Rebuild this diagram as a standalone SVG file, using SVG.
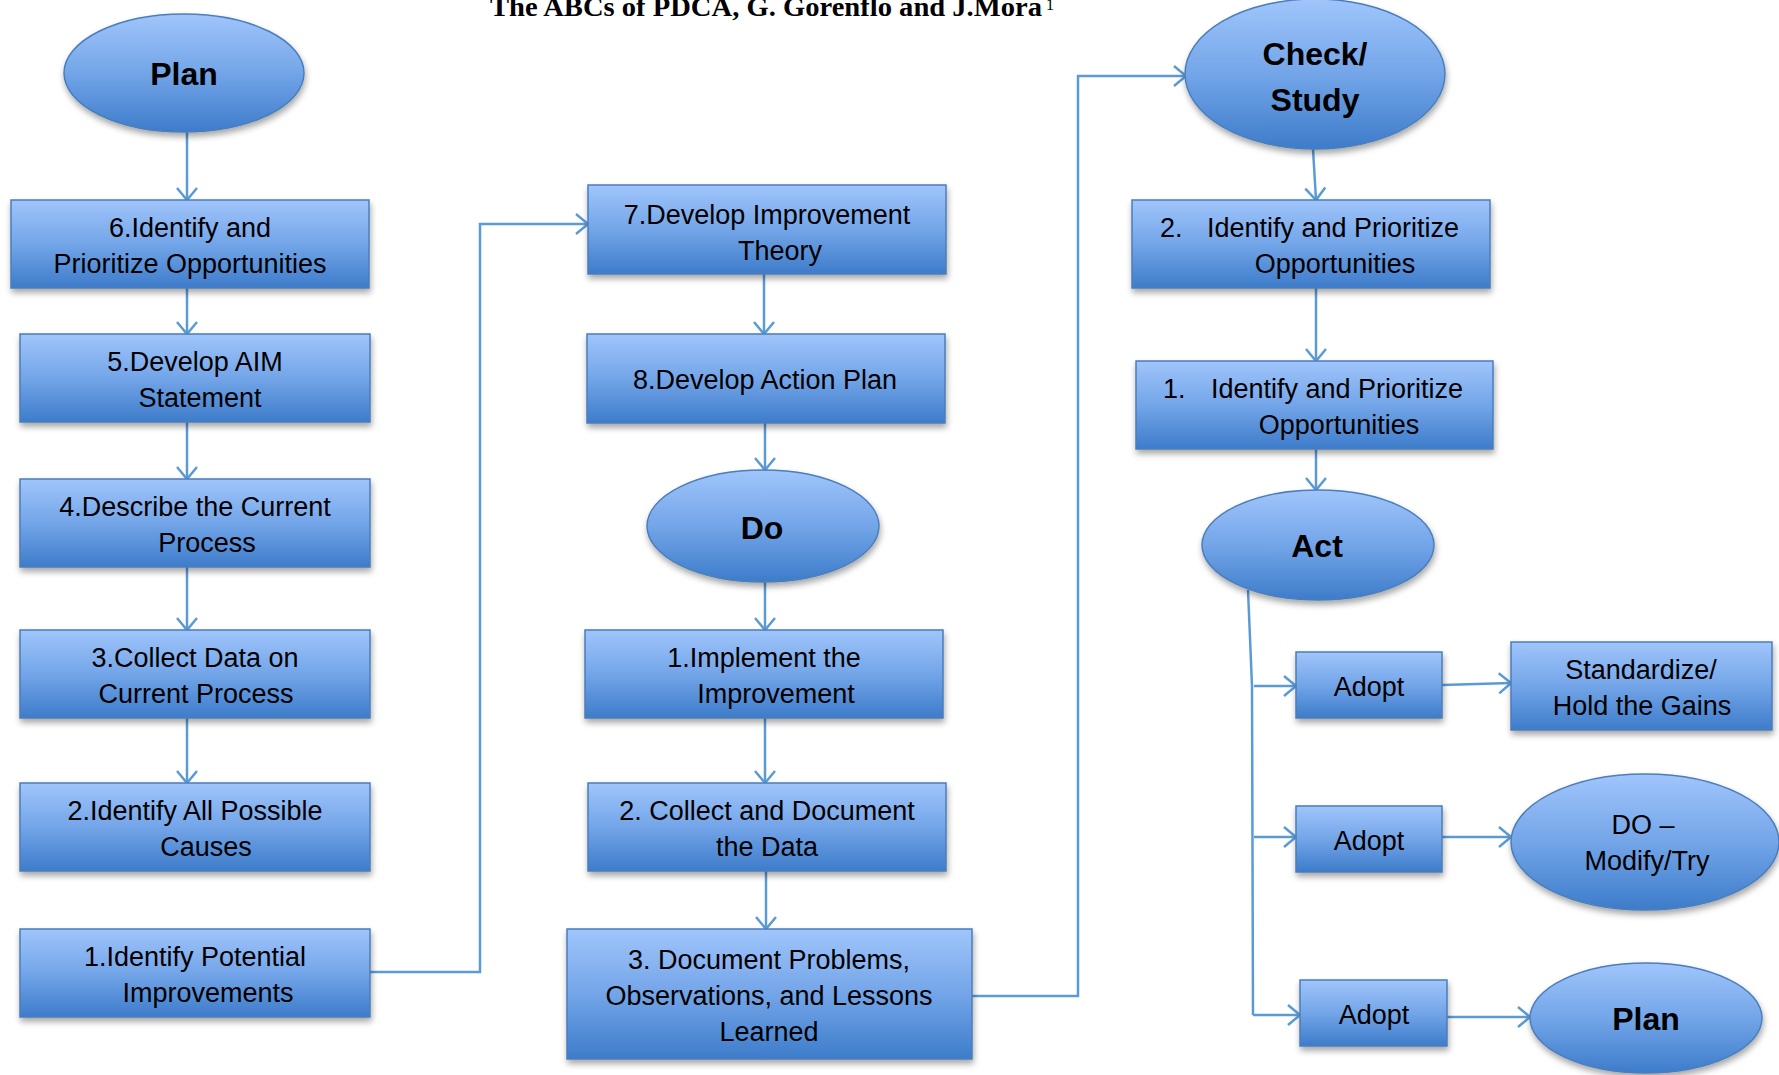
<svg xmlns="http://www.w3.org/2000/svg" width="1779" height="1075" viewBox="0 0 1779 1075">
<defs>
<linearGradient id="g" x1="0" y1="0" x2="0" y2="1">
<stop offset="0" stop-color="#a0c5fb"/>
<stop offset="0.5" stop-color="#73a5e8"/>
<stop offset="1" stop-color="#3d7cca"/>
</linearGradient>
<filter id="sh" x="-10%" y="-10%" width="125%" height="135%">
<feDropShadow dx="1" dy="4" stdDeviation="3" flood-color="#000" flood-opacity="0.35"/>
</filter>
<marker id="ar" viewBox="0 0 16 24" markerUnits="userSpaceOnUse" markerWidth="16" markerHeight="24" refX="14" refY="12" orient="auto">
<path d="M2,2 L14,12 L2,22" fill="none" stroke="#5b9bd5" stroke-width="2.5"/>
</marker>
</defs>
<style>
.n{fill:url(#g);stroke:#4a7ebb;stroke-width:1.5;filter:url(#sh)}
.t{font-family:"Liberation Sans",Arial,sans-serif;font-size:27px;fill:#000;text-anchor:middle}
.t.l{text-anchor:start}
.b{font-family:"Liberation Sans",Arial,sans-serif;font-size:32px;font-weight:bold;fill:#000;text-anchor:middle}
.c{fill:none;stroke:#5b9bd5;stroke-width:2.5;marker-end:url(#ar)}
.c0{fill:none;stroke:#5b9bd5;stroke-width:2.5}
</style>
<rect width="1779" height="1075" fill="#fff"/>
<text x="490" y="16" font-family="'Liberation Serif',serif" font-weight="bold" font-size="27" textLength="552" lengthAdjust="spacingAndGlyphs">The ABCs of PDCA, G. Gorenflo and J.Mora</text>
<text x="1046" y="10" font-family="'Liberation Serif',serif" font-size="16">1</text>

<g id="connectors">
<path class="c" d="M187,132 V200"/>
<path class="c" d="M187,288 V334"/>
<path class="c" d="M187,422 V479"/>
<path class="c" d="M187,567 V630"/>
<path class="c" d="M187,718 V783"/>
<path class="c" d="M370,972 H480 V224 H588"/>
<path class="c" d="M764,274 V334"/>
<path class="c" d="M765,423 V470"/>
<path class="c" d="M765,582 V630"/>
<path class="c" d="M765,718 V783"/>
<path class="c" d="M766,871 V929"/>
<path class="c" d="M972,996 H1078 V76 H1186"/>
<path class="c" d="M1313,149 L1316,200"/>
<path class="c" d="M1316,288 V361"/>
<path class="c" d="M1316,449 V490"/>
<path class="c0" d="M1248,590 L1252,686 L1253,1015"/>
<path class="c" d="M1253,1015 H1300"/>
<path class="c" d="M1254,686 H1296"/>
<path class="c" d="M1254,837 H1296"/>
<path class="c" d="M1442,685 L1511,683"/>
<path class="c" d="M1442,837 H1511"/>
<path class="c" d="M1447,1017 H1530"/>
</g>

<g id="plan"><ellipse class="n" cx="184" cy="73" rx="120" ry="59"/><text class="b" x="184" y="85">Plan</text></g>
<g id="s6"><rect class="n" x="11" y="200" width="358" height="88"/><text class="t" x="190" y="237">6.Identify and</text><text class="t" x="190" y="273">Prioritize Opportunities</text></g>
<g id="s5"><rect class="n" x="20" y="334" width="350" height="88"/><text class="t" x="195" y="371">5.Develop AIM</text><text class="t" x="200" y="407">Statement</text></g>
<g id="s4"><rect class="n" x="20" y="479" width="350" height="88"/><text class="t" x="195" y="516">4.Describe the Current</text><text class="t" x="207" y="552">Process</text></g>
<g id="s3"><rect class="n" x="20" y="630" width="350" height="88"/><text class="t" x="195" y="667">3.Collect Data on</text><text class="t" x="196" y="703">Current Process</text></g>
<g id="s2"><rect class="n" x="20" y="783" width="350" height="88"/><text class="t" x="195" y="820">2.Identify All Possible</text><text class="t" x="206" y="856">Causes</text></g>
<g id="s1"><rect class="n" x="20" y="929" width="350" height="88"/><text class="t" x="195" y="966">1.Identify Potential</text><text class="t" x="208" y="1002">Improvements</text></g>

<g id="s7"><rect class="n" x="588" y="185" width="358" height="89"/><text class="t" x="767" y="224">7.Develop Improvement</text><text class="t" x="780" y="260">Theory</text></g>
<g id="s8"><rect class="n" x="587" y="334" width="358" height="89"/><text class="t" x="765" y="389">8.Develop Action Plan</text></g>
<g id="do"><ellipse class="n" cx="763" cy="526" rx="116" ry="56"/><text class="b" x="762" y="539">Do</text></g>
<g id="d1"><rect class="n" x="585" y="630" width="358" height="88"/><text class="t" x="764" y="667">1.Implement the</text><text class="t" x="776" y="703">Improvement</text></g>
<g id="d2"><rect class="n" x="588" y="783" width="358" height="88"/><text class="t" x="767" y="820">2. Collect and Document</text><text class="t" x="767" y="856">the Data</text></g>
<g id="d3"><rect class="n" x="567" y="929" width="405" height="130"/><text class="t" x="769" y="969">3. Document Problems,</text><text class="t" x="769" y="1005">Observations, and Lessons</text><text class="t" x="769" y="1041">Learned</text></g>

<g id="check"><ellipse class="n" cx="1315" cy="74" rx="130" ry="75"/><text class="b" x="1315" y="65">Check/</text><text class="b" x="1315" y="111">Study</text></g>
<g id="c2"><rect class="n" x="1132" y="200" width="358" height="88"/><text class="t l" x="1160" y="237">2.</text><text class="t l" x="1207" y="237">Identify and Prioritize</text><text class="t" x="1335" y="273">Opportunities</text></g>
<g id="c1"><rect class="n" x="1136" y="361" width="357" height="88"/><text class="t l" x="1163" y="398">1.</text><text class="t l" x="1211" y="398">Identify and Prioritize</text><text class="t" x="1339" y="434">Opportunities</text></g>
<g id="act"><ellipse class="n" cx="1318" cy="545" rx="116" ry="55"/><text class="b" x="1317" y="557">Act</text></g>
<g id="a1"><rect class="n" x="1296" y="652" width="146" height="66"/><text class="t" x="1369" y="696">Adopt</text></g>
<g id="std"><rect class="n" x="1511" y="642" width="261" height="88"/><text class="t" x="1641" y="679">Standardize/</text><text class="t" x="1642" y="715">Hold the Gains</text></g>
<g id="a2"><rect class="n" x="1296" y="806" width="146" height="66"/><text class="t" x="1369" y="850">Adopt</text></g>
<g id="dom"><ellipse class="n" cx="1645" cy="842" rx="134" ry="68"/><text class="t" x="1643" y="834">DO –</text><text class="t" x="1647" y="870">Modify/Try</text></g>
<g id="a3"><rect class="n" x="1300" y="980" width="147" height="66"/><text class="t" x="1374" y="1024">Adopt</text></g>
<g id="plan2"><ellipse class="n" cx="1646" cy="1018" rx="116" ry="55"/><text class="b" x="1646" y="1030">Plan</text></g>
</svg>
